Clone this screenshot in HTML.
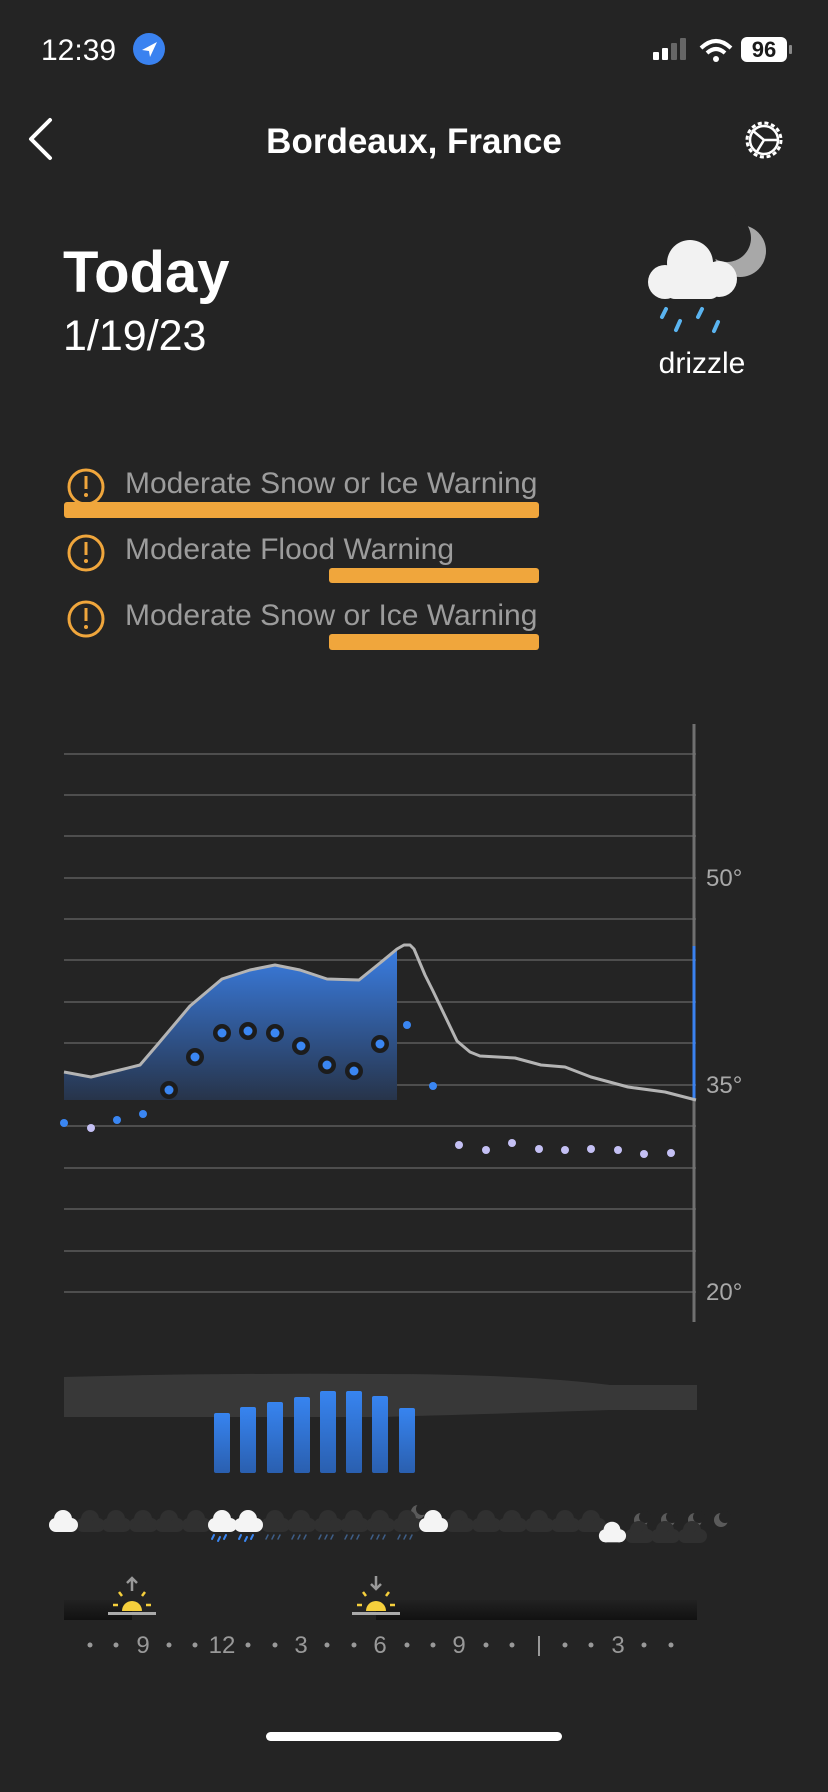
<!DOCTYPE html>
<html><head><meta charset="utf-8"><style>
html,body{margin:0;padding:0;background:#242424;}
svg{display:block;font-family:"Liberation Sans",sans-serif;}
</style></head><body>
<svg width="828" height="1792" viewBox="0 0 828 1792" xmlns="http://www.w3.org/2000/svg">
<defs>
<linearGradient id="fg" x1="0" y1="0" x2="0" y2="1">
<stop offset="0" stop-color="#3a7de2"/><stop offset="1" stop-color="#27344a"/></linearGradient>
<linearGradient id="bg" x1="0" y1="0" x2="0" y2="1">
<stop offset="0" stop-color="#3784f0"/><stop offset="1" stop-color="#2a5faf"/></linearGradient>
<linearGradient id="sg" x1="0" y1="0" x2="0" y2="1">
<stop offset="0" stop-color="#222"/><stop offset="1" stop-color="#111"/></linearGradient>
<symbol id="cl" viewBox="0 0 32 22"><circle cx="9" cy="15" r="7"/><circle cx="16" cy="9" r="9"/><circle cx="24" cy="15" r="7"/><rect x="9" y="12" width="15" height="10"/></symbol>
</defs>
<rect width="828" height="1792" fill="#242424"/>
<text x="41" y="60" font-size="30" fill="#fff">12:39</text>
<circle cx="149" cy="49" r="16" fill="#3a82f0"/>
<path d="M142,50 L157,42 L150,57 L149,51 Z" fill="#fff"/>
<rect x="653" y="52" width="6" height="8" rx="1" fill="#fff"/>
<rect x="662" y="48" width="6" height="12" rx="1" fill="#fff"/>
<rect x="671" y="43" width="6" height="17" rx="1" fill="#666"/>
<rect x="680" y="38" width="6" height="22" rx="1" fill="#666"/>
<path d="M701,48 Q716,34 731,48" stroke="#fff" stroke-width="4" fill="none"/>
<path d="M707,53 Q716,45 725,53" stroke="#fff" stroke-width="4" fill="none"/>
<circle cx="716" cy="59" r="3" fill="#fff"/>
<rect x="741" y="37" width="46" height="25" rx="6" fill="#fff"/>
<rect x="789" y="45" width="3" height="9" rx="1" fill="#888"/>
<text x="764" y="57" font-size="22" font-weight="bold" fill="#1a1a1a" text-anchor="middle">96</text>
<path d="M50,120 L31,139 L50,158" stroke="#fff" stroke-width="4" fill="none" stroke-linecap="round" stroke-linejoin="round"/>
<text x="414" y="153" font-size="35" font-weight="bold" fill="#fff" text-anchor="middle">Bordeaux, France</text>
<circle cx="764" cy="140" r="17" stroke="#fff" stroke-width="3" fill="none" stroke-dasharray="4 2.7"/>
<circle cx="764" cy="140" r="14" stroke="#fff" stroke-width="2.5" fill="none"/>
<path d="M764,140 L752,130 M764,140 L779,140 M764,140 L756,153" stroke="#fff" stroke-width="2.5"/>
<text x="63" y="292" font-size="58" font-weight="bold" fill="#fff">Today</text>
<text x="63" y="350" font-size="43" fill="#fff">1/19/23</text>
<circle cx="740" cy="251" r="26" fill="#a8a8a8"/>
<circle cx="727" cy="238" r="24" fill="#242424"/>
<g fill="#f2f2f2"><circle cx="665" cy="282" r="17"/><circle cx="690" cy="263" r="23"/><circle cx="719" cy="279" r="18"/><rect x="665" y="275" width="55" height="24" rx="10"/></g>
<g stroke="#5ab4f0" stroke-width="4" stroke-linecap="round"><path d="M666,309 L662,317 M680,321 L676,330 M702,309 L698,317 M718,322 L714,331"/></g>
<text x="702" y="373" font-size="30" fill="#fff" text-anchor="middle">drizzle</text>
<g font-size="30" fill="#9c9c9c">
<text x="125" y="493">Moderate Snow or Ice Warning</text>
<text x="125" y="559">Moderate Flood Warning</text>
<text x="125" y="625">Moderate Snow or Ice Warning</text></g>
<g fill="#f0a63c"><rect x="64" y="502" width="475" height="16" rx="3"/><rect x="329" y="568" width="210" height="15" rx="3"/><rect x="329" y="634" width="210" height="16" rx="3"/></g>
<g stroke="#f0a63c" stroke-width="3" fill="none"><circle cx="86" cy="487" r="17"/><circle cx="86" cy="553" r="17"/><circle cx="86" cy="619" r="17"/></g>
<g fill="#f0a63c"><rect x="84.5" y="476" width="3" height="13"/><circle cx="86" cy="495" r="2"/><rect x="84.5" y="542" width="3" height="13"/><circle cx="86" cy="561" r="2"/><rect x="84.5" y="608" width="3" height="13"/><circle cx="86" cy="627" r="2"/></g>
<g stroke="#5c5c5c" stroke-width="1.5">
<line x1="64" x2="696" y1="754" y2="754"/><line x1="64" x2="696" y1="795" y2="795"/><line x1="64" x2="696" y1="836" y2="836"/><line x1="64" x2="696" y1="878" y2="878"/><line x1="64" x2="696" y1="919" y2="919"/><line x1="64" x2="696" y1="960" y2="960"/><line x1="64" x2="696" y1="1002" y2="1002"/><line x1="64" x2="696" y1="1043" y2="1043"/><line x1="64" x2="696" y1="1085" y2="1085"/><line x1="64" x2="696" y1="1126" y2="1126"/><line x1="64" x2="696" y1="1168" y2="1168"/><line x1="64" x2="696" y1="1209" y2="1209"/><line x1="64" x2="696" y1="1251" y2="1251"/><line x1="64" x2="696" y1="1292" y2="1292"/></g>
<line x1="694" x2="694" y1="724" y2="1322" stroke="#707070" stroke-width="3"/>
<line x1="694" x2="694" y1="946" y2="1100" stroke="#3a82f0" stroke-width="3"/>
<g font-size="24" fill="#a8a8a8"><text x="706" y="886">50°</text><text x="706" y="1093">35°</text><text x="706" y="1300">20°</text></g>
<polygon fill="url(#fg)" points="64,1072 91,1077 120,1070 140,1065 158,1044 190,1006 222,979 250,970 275,965 300,970 327,979 359,980 380,963 397,949 397,1100 64,1100"/>
<polyline fill="none" stroke="#b4b4b4" stroke-width="3" stroke-linejoin="round" points="64,1072 91,1077 120,1070 140,1065 158,1044 190,1006 222,979 250,970 275,965 300,970 327,979 359,980 380,963 397,949 404,945 410,945 414,949 425,975 433,991 457,1041 470,1052 480,1056 515,1058 541,1065 565,1067 591,1077 628,1087 665,1092 696,1100"/>
<g fill="#1c1c1c"><circle cx="169" cy="1090" r="9"/><circle cx="195" cy="1057" r="9"/><circle cx="222" cy="1033" r="9"/><circle cx="248" cy="1031" r="9"/><circle cx="275" cy="1033" r="9"/><circle cx="301" cy="1046" r="9"/><circle cx="327" cy="1065" r="9"/><circle cx="354" cy="1071" r="9"/><circle cx="380" cy="1044" r="9"/></g>
<g fill="#3a86f2"><circle cx="64" cy="1123" r="4"/><circle cx="117" cy="1120" r="4"/><circle cx="143" cy="1114" r="4"/><circle cx="169" cy="1090" r="4.5"/><circle cx="195" cy="1057" r="4.5"/><circle cx="222" cy="1033" r="4.5"/><circle cx="248" cy="1031" r="4.5"/><circle cx="275" cy="1033" r="4.5"/><circle cx="301" cy="1046" r="4.5"/><circle cx="327" cy="1065" r="4.5"/><circle cx="354" cy="1071" r="4.5"/><circle cx="380" cy="1044" r="4.5"/><circle cx="407" cy="1025" r="4"/><circle cx="433" cy="1086" r="4"/></g>
<g fill="#c4c0f4"><circle cx="91" cy="1128" r="4"/><circle cx="459" cy="1145" r="4"/><circle cx="486" cy="1150" r="4"/><circle cx="512" cy="1143" r="4"/><circle cx="539" cy="1149" r="4"/><circle cx="565" cy="1150" r="4"/><circle cx="591" cy="1149" r="4"/><circle cx="618" cy="1150" r="4"/><circle cx="644" cy="1154" r="4"/><circle cx="671" cy="1153" r="4"/></g>
<path d="M64,1377 Q200,1373 380,1374 Q520,1374 610,1385 L697,1385 L697,1410 L610,1410 Q520,1413 380,1417 Q200,1417 64,1417 Z" fill="#383838"/>
<g fill="url(#bg)"><rect x="214" y="1413" width="16" height="60" rx="2"/><rect x="240" y="1407" width="16" height="66" rx="2"/><rect x="267" y="1402" width="16" height="71" rx="2"/><rect x="294" y="1397" width="16" height="76" rx="2"/><rect x="320" y="1391" width="16" height="82" rx="2"/><rect x="346" y="1391" width="16" height="82" rx="2"/><rect x="372" y="1396" width="16" height="77" rx="2"/><rect x="399" y="1408" width="16" height="65" rx="2"/></g>
<g fill="#5a5a5a"><circle cx="418" cy="1512" r="7"/><circle cx="641" cy="1520" r="7"/><circle cx="668" cy="1520" r="7"/><circle cx="695" cy="1520" r="7"/><circle cx="721" cy="1520" r="7"/></g>
<g fill="#242424"><circle cx="422" cy="1509" r="6"/><circle cx="645" cy="1517" r="6"/><circle cx="672" cy="1517" r="6"/><circle cx="699" cy="1517" r="6"/><circle cx="725" cy="1517" r="6"/></g>
<g fill="#303030">
<use href="#cl" x="74" y="1510" width="32" height="22"/><use href="#cl" x="100" y="1510" width="32" height="22"/><use href="#cl" x="127" y="1510" width="32" height="22"/><use href="#cl" x="153" y="1510" width="32" height="22"/><use href="#cl" x="180" y="1510" width="32" height="22"/>
<use href="#cl" x="259" y="1510" width="32" height="22"/><use href="#cl" x="285" y="1510" width="32" height="22"/><use href="#cl" x="312" y="1510" width="32" height="22"/><use href="#cl" x="338" y="1510" width="32" height="22"/><use href="#cl" x="364" y="1510" width="32" height="22"/><use href="#cl" x="391" y="1510" width="32" height="22"/>
<use href="#cl" x="443" y="1510" width="32" height="22"/><use href="#cl" x="470" y="1510" width="32" height="22"/><use href="#cl" x="496" y="1510" width="32" height="22"/><use href="#cl" x="523" y="1510" width="32" height="22"/><use href="#cl" x="549" y="1510" width="32" height="22"/><use href="#cl" x="575" y="1510" width="32" height="22"/>
<use href="#cl" x="623" y="1521" width="32" height="22"/><use href="#cl" x="649" y="1521" width="32" height="22"/><use href="#cl" x="676" y="1521" width="32" height="22"/></g>
<g fill="#f4f4f4"><use href="#cl" x="47" y="1510" width="32" height="22"/><use href="#cl" x="206" y="1510" width="32" height="22"/><use href="#cl" x="232" y="1510" width="32" height="22"/><use href="#cl" x="417" y="1510" width="32" height="22"/><use href="#cl" x="597" y="1521" width="30" height="22"/></g>
<g stroke="#3a86f2" stroke-width="2" stroke-linecap="round"><path d="M214,1535 l-2,4 M220,1537 l-2,4 M226,1535 l-2,4 M241,1535 l-2,4 M247,1537 l-2,4 M253,1535 l-2,4"/></g>
<g stroke="#3e5d86" stroke-width="1.5" stroke-linecap="round"><path d="M268,1535 l-2,4 M274,1535 l-2,4 M280,1535 l-2,4 M294,1535 l-2,4 M300,1535 l-2,4 M306,1535 l-2,4 M321,1535 l-2,4 M327,1535 l-2,4 M333,1535 l-2,4 M347,1535 l-2,4 M353,1535 l-2,4 M359,1535 l-2,4 M373,1535 l-2,4 M379,1535 l-2,4 M385,1535 l-2,4 M400,1535 l-2,4 M406,1535 l-2,4 M412,1535 l-2,4"/></g>
<rect x="64" y="1600" width="68" height="20" fill="url(#sg)"/>
<rect x="376" y="1600" width="321" height="20" fill="url(#sg)"/>
<g transform="translate(132,0)"><path d="M0,1591 L0,1578 M-5,1583 L0,1578 L5,1583" stroke="#999" stroke-width="2.5" fill="none"/>
<path d="M-10,1611 A10,10 0 0 1 10,1611 Z" fill="#f5cf3c"/><g stroke="#f5cf3c" stroke-width="2.5"><path d="M-19,1605 h5 M14,1605 h5 M-13,1592 l3,4 M13,1592 l-3,4"/></g><rect x="-24" y="1612" width="48" height="3" fill="#aaa"/></g>
<g transform="translate(376,0)"><path d="M0,1576 L0,1589 M-5,1584 L0,1589 L5,1584" stroke="#999" stroke-width="2.5" fill="none"/>
<path d="M-10,1611 A10,10 0 0 1 10,1611 Z" fill="#f5cf3c"/><g stroke="#f5cf3c" stroke-width="2.5"><path d="M-19,1605 h5 M14,1605 h5 M-13,1592 l3,4 M13,1592 l-3,4"/></g><rect x="-24" y="1612" width="48" height="3" fill="#aaa"/></g>
<g fill="#999"><circle cx="90" cy="1645" r="2.5"/><circle cx="116" cy="1645" r="2.5"/><circle cx="169" cy="1645" r="2.5"/><circle cx="195" cy="1645" r="2.5"/><circle cx="248" cy="1645" r="2.5"/><circle cx="275" cy="1645" r="2.5"/><circle cx="327" cy="1645" r="2.5"/><circle cx="354" cy="1645" r="2.5"/><circle cx="407" cy="1645" r="2.5"/><circle cx="433" cy="1645" r="2.5"/><circle cx="486" cy="1645" r="2.5"/><circle cx="512" cy="1645" r="2.5"/><circle cx="565" cy="1645" r="2.5"/><circle cx="591" cy="1645" r="2.5"/><circle cx="644" cy="1645" r="2.5"/><circle cx="671" cy="1645" r="2.5"/></g>
<g font-size="24" fill="#999" text-anchor="middle"><text x="143" y="1653">9</text><text x="222" y="1653">12</text><text x="301" y="1653">3</text><text x="380" y="1653">6</text><text x="459" y="1653">9</text><text x="618" y="1653">3</text></g>
<rect x="538" y="1636" width="2" height="20" fill="#999"/>
<rect x="266" y="1732" width="296" height="9" rx="4.5" fill="#fff"/>
</svg>
</body></html>
